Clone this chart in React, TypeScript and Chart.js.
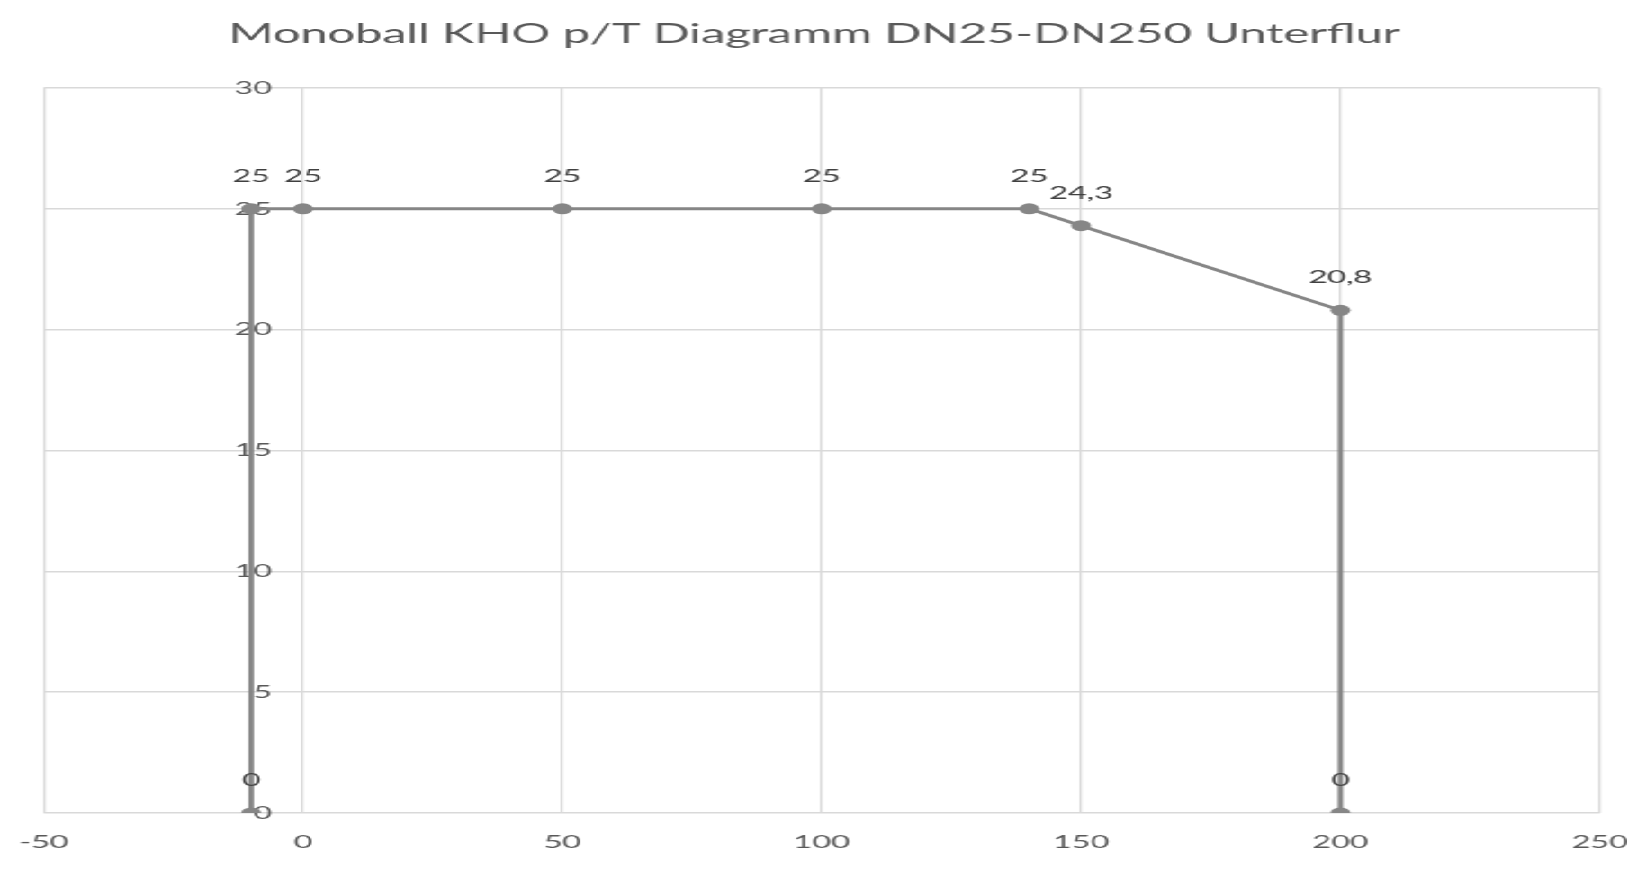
import React, { useEffect, useRef } from "react";
import { Chart, registerables } from "chart.js";

Chart.register(...registerables);

const chartTitle = "Monoball KHO p/T Diagramm DN25-DN250 Unterflur";
const temperatureX = [-10, -10, 0, 50, 100, 140, 150, 200, 200];
const pressureY = [0, 25, 25, 25, 25, 25, 24.3, 20.8, 0];
const xTicks = [-50, 0, 50, 100, 150, 200, 250];
const yTicks = [0, 5, 10, 15, 20, 25, 30];

const STRETCH = 1.8;
const FULL_W = 1627;
const FULL_H = 871;
const FONT = "Lato, 'Open Sans', sans-serif";

const fmt = (v: number) => String(v).replace(".", ",");

const titlePlugin = {
  id: "centeredTitle",
  afterDraw(chart: any) {
    const ctx = chart.ctx;
    ctx.save();
    ctx.font = `27px ${FONT}`;
    ctx.fillStyle = "#595959";
    ctx.textAlign = "center";
    ctx.textBaseline = "middle";
    ctx.fillText(chartTitle, chart.width / 2, 34);
    ctx.restore();
  },
};

const dataLabelPlugin = {
  id: "dataLabels",
  afterDatasetsDraw(chart: any) {
    const ctx = chart.ctx;
    const meta = chart.getDatasetMeta(0);
    const ds = chart.data.datasets[0];
    ctx.save();
    ctx.font = `18px ${FONT}`;
    ctx.fillStyle = "#404040";
    ctx.textAlign = "center";
    ctx.textBaseline = "middle";
    meta.data.forEach((pt: any, i: number) => {
      const v = ds.data[i].y;
      ctx.fillText(fmt(v), pt.x, pt.y - 33);
    });
    ctx.restore();
  },
};

export default function App() {
  const ref = useRef<HTMLCanvasElement | null>(null);
  useEffect(() => {
    if (!ref.current) return;
    const points = temperatureX.map((x, i) => ({ x, y: pressureY[i] }));
    const chart = new Chart(ref.current, {
      type: "scatter",
      data: {
        datasets: [
          {
            data: points,
            showLine: true,
            borderColor: "#868686",
            backgroundColor: "#868686",
            borderWidth: 3,
            pointRadius: 5.5,
            pointBorderWidth: 0,
            pointBackgroundColor: "#868686",
          },
        ],
      },
      options: {
        animation: false,
        responsive: true,
        maintainAspectRatio: false,
        layout: { padding: { left: 43.6 / STRETCH, right: (FULL_W - 1598) / STRETCH, top: 88, bottom: 0.5 } },
        plugins: {
          legend: { display: false },
          tooltip: { enabled: false },
          title: { display: false },
        },
        scales: {
          x: {
            type: "linear",
            position: "bottom",
            min: -50,
            max: 250,
            afterBuildTicks: (axis: any) => {
              axis.ticks = xTicks.map((v) => ({ value: v }));
            },
            afterFit: (axis: any) => {
              axis.paddingLeft = 0;
              axis.paddingRight = 0;
            },
            grid: { color: "#d9d9d9", lineWidth: 1.3, drawTicks: false },
            border: { display: false },
            ticks: {
              color: "#595959",
              font: { family: FONT, size: 18 },
              padding: 18,
              maxRotation: 0,
            },
          },
          y: {
            type: "linear",
            position: { x: -6 } as any,
            min: 0,
            max: 30,
            afterBuildTicks: (axis: any) => {
              axis.ticks = yTicks.map((v) => ({ value: v }));
            },
            grid: { color: "#d9d9d9", lineWidth: 1.5, drawTicks: false },
            border: { display: false },
            ticks: {
              color: "#595959",
              font: { family: FONT, size: 18 },
              padding: 2,
            },
          },
        },
      },
      plugins: [dataLabelPlugin, titlePlugin],
    });
    return () => chart.destroy();
  }, []);

  return (
    <div
      style={{
        position: "fixed",
        left: 0,
        top: 0,
        width: FULL_W / STRETCH,
        height: FULL_H,
        transform: `scaleX(${STRETCH})`,
        transformOrigin: "0 0",
        background: "#fff",
      }}
    >
      <canvas ref={ref} />
    </div>
  );
}
